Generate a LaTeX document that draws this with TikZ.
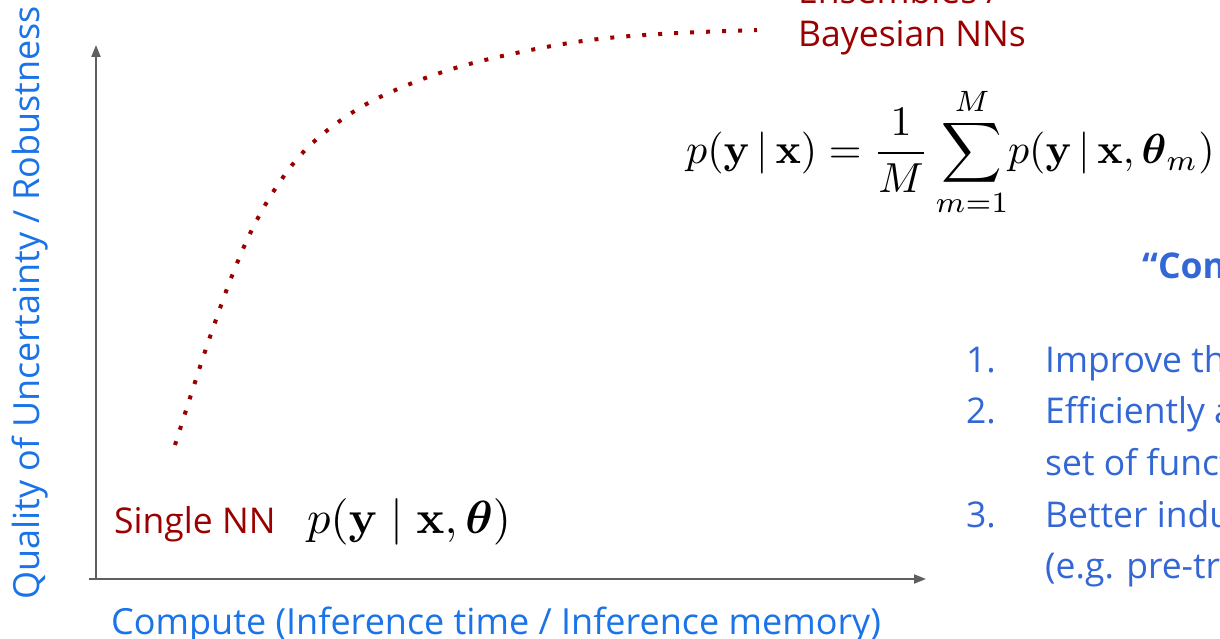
\documentclass[tikz,border=0pt]{standalone}
\usepackage[no-math]{fontspec}
\usepackage{amsmath}
\usepackage{graphicx}
\newfontfamily\gs{Open Sans}
\definecolor{darkred}{HTML}{9B0000}
\definecolor{axisblue}{HTML}{1A73E8}
\definecolor{listblue}{HTML}{3367D6}
\definecolor{axisgray}{HTML}{5F5F5F}
\usetikzlibrary{arrows.meta}
\newcommand{\tightmid}{\mskip3mu|\mskip3mu}
\tikzset{
  lbl/.style={inner sep=0pt, font=\gs\fontsize{35.5}{40}\selectfont},
  axislbl/.style={lbl, font=\gs\fontsize{36}{40}\selectfont, text=axisblue},
  redlbl/.style={lbl, text=darkred},
  listlbl/.style={lbl, text=listblue},
  mathlbl/.style={inner sep=0pt},
  axisline/.style={draw=axisgray, line width=2pt, -{Triangle[length=12pt,width=9pt]}},
  curve/.style={draw=darkred, line width=4pt, dash pattern=on 4pt off 12pt}
}
\begin{document}
\begin{tikzpicture}[x=1pt,y=-1pt]
\useasboundingbox (0,0) rectangle (1220,639);
\clip (0,0) rectangle (1220,639);
% axes
\coordinate (origin) at (96,579);
\coordinate (xstart) at (89,579);
\coordinate (ytip) at (96,45);
\coordinate (xtip) at (926,579);
\draw[axisline] (origin) -- (ytip);
\draw[axisline] (xstart) -- (xtip);
% axis labels
\node[axislbl, rotate=90, anchor=base west] (ylab) at (39,600) {Quality of Uncertainty / Robustness};
\node[axislbl, anchor=base west] (xlab) at (111,634) {Compute (Inference time / Inference memory)};
% curve
\draw[curve] plot[smooth, tension=0.6] coordinates {(175,445) (199.7,367.7) (215.3,321.6) (231.8,276.3) (251,231.6) (274.7,189.5) (303.7,151.6) (340.3,120.6) (381.4,96.4) (440.8,72.6) (503.2,55.8) (582.7,41) (661.7,33.9) (757,30)};
% single NN
\node[redlbl, anchor=base west] (single) at (114,533) {Single NN};
\node[mathlbl, anchor=west] (singlemath) at (307,522) {\scalebox{4.65}{$p(\mathbf{y}\mid\mathbf{x},\boldsymbol{\theta})$}};
% ensembles
\node[redlbl, anchor=base west] (ens1) at (798,4) {Ensembles /};
\node[redlbl, anchor=base west] (ens2) at (798,47) {Bayesian NNs};
\node[mathlbl, anchor=west] (ensmath) at (686,152) {\scalebox{4.2}{$\displaystyle p(\mathbf{y}\tightmid\mathbf{x}) = \frac{1}{M}\sum_{m=1}^{M}\! p(\mathbf{y}\tightmid\mathbf{x},\boldsymbol{\theta}_m)$}};
% right text
\node[listlbl, anchor=base west, font=\gs\bfseries\fontsize{35.5}{40}\selectfont] (title) at (1142,278) {“Con};
\node[listlbl, anchor=base east] (n1) at (996,372) {1.};
\node[listlbl, anchor=base west] (t1) at (1045,372) {Improve the};
\node[listlbl, anchor=base east] (n2) at (996,423) {2.};
\node[listlbl, anchor=base west] (t2) at (1045,423) {Efficiently a};
\node[listlbl, anchor=base west] (t2b) at (1045,475) {set of functions};
\node[listlbl, anchor=base east] (n3) at (996,527) {3.};
\node[listlbl, anchor=base west] (t3) at (1045,527) {Better inductive};
\node[listlbl, anchor=base west] (t3b) at (1045,578) {(e.g. pre-training};
\end{tikzpicture}
\end{document}
